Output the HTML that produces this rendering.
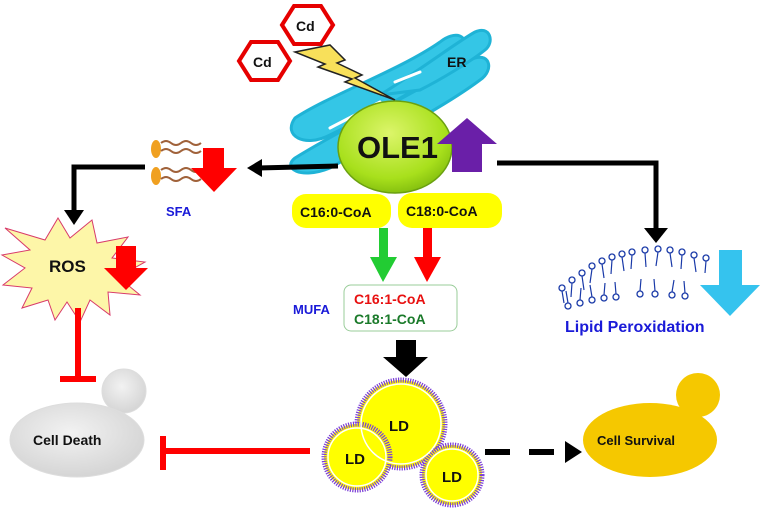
<!DOCTYPE html>
<html><head><style>
html,body{margin:0;padding:0;background:#fff;}
svg{display:block;font-family:"Liberation Sans",Arial,sans-serif;font-weight:bold;}
</style></head><body>
<svg width="762" height="510" viewBox="0 0 762 510" xmlns="http://www.w3.org/2000/svg">
<defs>
<radialGradient id="ole" cx="45%" cy="35%" r="70%"><stop offset="0" stop-color="#dcf56a"/><stop offset="0.7" stop-color="#a8e01c"/><stop offset="1" stop-color="#7cb80c"/></radialGradient>
<radialGradient id="grey" cx="45%" cy="40%" r="70%"><stop offset="0" stop-color="#f2f2f2"/><stop offset="1" stop-color="#d0d0d0"/></radialGradient>
</defs>
<!-- ER -->
<g fill="#34c6e6" stroke="#1fb3d6" stroke-width="3">
<path d="M295,118 C330,95 400,70 440,42 C455,30 470,35 462,50 C440,80 380,110 330,135 C305,148 282,136 295,118Z"/>
<path d="M295,158 C340,130 420,90 470,60 C490,50 495,70 480,80 C440,110 370,145 330,168 C300,180 282,168 295,158Z"/>
<path d="M380,95 C420,70 460,40 475,32 C490,25 495,42 485,50 C470,62 440,80 420,90Z"/>
</g>
<g fill="none" stroke="#fff" stroke-width="3" stroke-linecap="round">
<path d="M330,128 L380,102"/><path d="M395,82 L420,72"/>
</g>
<text x="447" y="67" font-size="14" fill="#111">ER</text>
<!-- Cd hexagons -->
<polygon points="282,25 294,6 321,6 333,25 321,44 294,44" fill="#fff" stroke="#e60000" stroke-width="4"/>
<text x="296" y="31" font-size="14" fill="#111">Cd</text>
<polygon points="239,61 251,42 278,42 290,61 278,80 251,80" fill="#fff" stroke="#e60000" stroke-width="4"/>
<text x="253" y="67" font-size="14" fill="#111">Cd</text>
<!-- lightning -->
<polygon points="295,52 330,45 345,60 337,63 362,75 355,78 395,100 345,82 352,79 318,67 325,64" fill="#f8e05a" stroke="#222" stroke-width="1.5"/>
<!-- OLE1 -->
<ellipse cx="395" cy="147" rx="57" ry="46" fill="url(#ole)" stroke="#6aa010" stroke-width="1.5"/>
<text x="357" y="158" font-size="31" fill="#111">OLE1</text>
<polygon points="437,144 467,118 497,144 482,144 482,172 452,172 452,144" fill="#6a1fa8"/>
<!-- left arrow to SFA -->
<line x1="338" y1="166" x2="258" y2="168" stroke="#000" stroke-width="5"/>
<polygon points="247,168 262,159 262,177" fill="#000"/>
<!-- right path -->
<polyline points="497,163 656,163 656,228" fill="none" stroke="#000" stroke-width="5"/>
<polygon points="644,228 668,228 656,243" fill="#000"/>
<!-- SFA -->
<ellipse cx="156" cy="149" rx="5" ry="9" fill="#f0a020"/>
<ellipse cx="156" cy="176" rx="5" ry="9" fill="#f0a020"/>
<g fill="none" stroke="#a0623a" stroke-width="2">
<path d="M161,143 q5,-4 10,0 t10,0 t10,0 t10,0"/><path d="M161,151 q5,-4 10,0 t10,0 t10,0 t10,0"/>
<path d="M161,170 q5,-4 10,0 t10,0 t10,0 t10,0"/><path d="M161,179 q5,-4 10,0 t10,0 t10,0 t10,0"/>
</g>
<polygon points="203,148 224,148 224,168 237,168 214,192 191,168 203,168" fill="#f00"/>
<text x="166" y="216" font-size="13" fill="#1a1ad8">SFA</text>
<!-- to ROS -->
<polyline points="145,167 74,167 74,212" fill="none" stroke="#000" stroke-width="5"/>
<polygon points="64,210 84,210 74,225" fill="#000"/>
<!-- ROS star -->
<polygon points="5,228 45,240 58,218 70,238 92,220 97,243 128,237 112,258 145,262 118,277 140,295 108,292 110,315 90,300 80,322 67,302 55,320 48,300 22,308 32,288 3,285 25,268 2,255 30,250" fill="#fdf6a8" stroke="#d83a6a" stroke-width="1"/>
<text x="49" y="272" font-size="17" fill="#111">ROS</text>
<polygon points="116,246 136,246 136,268 148,268 126,290 104,268 116,268" fill="#f00"/>
<!-- ROS inhibit cell death -->
<line x1="78" y1="308" x2="78" y2="378" stroke="#f00" stroke-width="6"/>
<line x1="60" y1="379" x2="96" y2="379" stroke="#f00" stroke-width="6"/>
<!-- Cell death -->
<circle cx="124" cy="391" r="22" fill="url(#grey)" stroke="#ddd"/>
<ellipse cx="77" cy="440" rx="67" ry="37" fill="url(#grey)" stroke="#ddd"/>
<text x="33" y="445" font-size="14" fill="#111">Cell Death</text>
<!-- LD inhibit -->
<line x1="165" y1="451" x2="310" y2="451" stroke="#f00" stroke-width="6"/>
<line x1="163" y1="436" x2="163" y2="470" stroke="#f00" stroke-width="6"/>
<!-- yellow boxes -->
<rect x="292" y="194" width="99" height="34" rx="14" fill="#ffff00"/>
<text x="300" y="217" font-size="14" fill="#111">C16:0-CoA</text>
<rect x="398" y="193" width="104" height="35" rx="14" fill="#ffff00"/>
<text x="406" y="216" font-size="14" fill="#111">C18:0-CoA</text>
<!-- green/red arrows -->
<rect x="379" y="228" width="9" height="30" fill="#22cc33"/>
<polygon points="370,257 397,257 383,282" fill="#22cc33"/>
<rect x="423" y="228" width="9" height="30" fill="#f00"/>
<polygon points="414,257 441,257 427,282" fill="#f00"/>
<!-- MUFA -->
<text x="293" y="314" font-size="13" fill="#1a1ad8">MUFA</text>
<rect x="344" y="285" width="113" height="46" rx="7" fill="#fff" stroke="#9c9" stroke-width="1"/>
<text x="354" y="304" font-size="14" fill="#e81010">C16:1-CoA</text>
<text x="354" y="324" font-size="14" fill="#1a7a2a">C18:1-CoA</text>
<!-- black block arrow -->
<polygon points="396,340 416,340 416,357 428,357 406,377 383,357 396,357" fill="#000"/>
<!-- LDs -->
<g stroke="#7b3fd6" stroke-width="5" stroke-dasharray="1.2 1.2" fill="#ffff00">
<circle cx="401" cy="424" r="44"/>
<circle cx="357" cy="457" r="33"/>
<circle cx="452" cy="475" r="30"/>
</g>
<g fill="none" stroke="#fff" stroke-width="1.5">
<circle cx="401" cy="424" r="40"/><circle cx="357" cy="457" r="29"/><circle cx="452" cy="475" r="26"/>
</g>
<text x="389" y="431" font-size="15" fill="#111">LD</text>
<text x="345" y="464" font-size="15" fill="#111">LD</text>
<text x="442" y="482" font-size="15" fill="#111">LD</text>
<!-- dashed arrow -->
<line x1="485" y1="452" x2="563" y2="452" stroke="#000" stroke-width="6" stroke-dasharray="25 19"/>
<polygon points="565,441 582,452 565,463" fill="#000"/>
<!-- Cell survival -->
<circle cx="698" cy="395" r="22" fill="#f5c800"/>
<ellipse cx="650" cy="440" rx="67" ry="37" fill="#f5c800"/>
<text x="597" y="445" font-size="13" fill="#111">Cell Survival</text>
<!-- lipid layer -->
<g fill="none" stroke="#1a3aa8" stroke-width="1.2">
<path d="M562,291 l2,12 M572,283 l-1,14 M582,276 l2,14 M592,269 l-2,14 M602,264 l2,14 M612,260 l-1,14 M622,257 l2,14 M632,255 l-1,14 M645,253 l1,14 M658,252 l-2,14 M670,253 l2,14 M682,255 l-1,14 M694,258 l2,14 M706,261 l-1,12"/>
<path d="M568,303 l-2,-12 M580,300 l1,-12 M592,297 l-2,-12 M604,295 l1,-12 M616,294 l-1,-12 M640,291 l1,-12 M655,291 l-1,-12 M672,292 l2,-12 M685,293 l-1,-12"/>
</g>
<g fill="#fff" stroke="#1a3aa8" stroke-width="1.3">
<circle cx="562" cy="288" r="3"/><circle cx="572" cy="280" r="3"/><circle cx="582" cy="273" r="3"/><circle cx="592" cy="266" r="3"/><circle cx="602" cy="261" r="3"/><circle cx="612" cy="257" r="3"/><circle cx="622" cy="254" r="3"/><circle cx="632" cy="252" r="3"/><circle cx="645" cy="250" r="3"/><circle cx="658" cy="249" r="3"/><circle cx="670" cy="250" r="3"/><circle cx="682" cy="252" r="3"/><circle cx="694" cy="255" r="3"/><circle cx="706" cy="258" r="3"/>
<circle cx="568" cy="306" r="3"/><circle cx="580" cy="303" r="3"/><circle cx="592" cy="300" r="3"/><circle cx="604" cy="298" r="3"/><circle cx="616" cy="297" r="3"/><circle cx="640" cy="294" r="3"/><circle cx="655" cy="294" r="3"/><circle cx="672" cy="295" r="3"/><circle cx="685" cy="296" r="3"/>
</g>
<polygon points="719,250 742,250 742,285 760,285 730,316 700,285 719,285" fill="#35c3ee"/>
<text x="565" y="332" font-size="16" fill="#1a1ad8">Lipid Peroxidation</text>
</svg>
</body></html>
